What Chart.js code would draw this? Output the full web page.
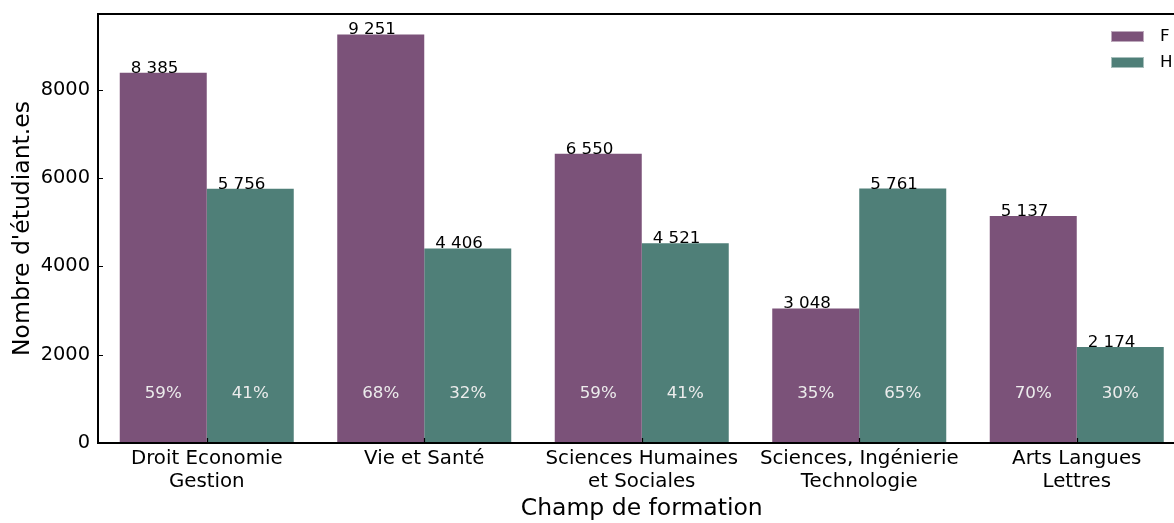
<!DOCTYPE html>
<html>
<head>
<meta charset="utf-8">
<script src="https://cdn.jsdelivr.net/npm/chart.js@4.4.1/dist/chart.umd.min.js"></script>
<style>
  html, body { margin: 0; padding: 0; overflow: hidden; background: #fff; }
  #wrap { width: 1174px; height: 523px; overflow: hidden; }
  canvas { display: block; }
</style>
</head>
<body>
<div id="wrap"><canvas id="chart" width="1190" height="523"></canvas></div>
<script>
// Data
const categories = [
  ['Droit Economie', 'Gestion'],
  ['Vie et Santé'],
  ['Sciences Humaines', 'et Sociales'],
  ['Sciences, Ingénierie', 'Technologie'],
  ['Arts Langues', 'Lettres']
];
const seriesNames = ['F', 'H'];
const womenCounts = [8385, 9251, 6550, 3048, 5137];
const menCounts = [5756, 4406, 4521, 5761, 2174];
const yTicks = [0, 2000, 4000, 6000, 8000];
const yMax = 9713;
const pctLabelLevel = 1000;

const purple = '#7b5279';
const teal = '#4f7f78';
const FONT = "'DejaVu Sans', sans-serif";

// "8385" -> "8 385"
function fmtCount(v) {
  return String(v).replace(/\B(?=(\d{3})+(?!\d))/g, ' ');
}

const barLabels = {
  id: 'barLabels',
  afterDatasetsDraw(chart) {
    const ctx = chart.ctx;
    const x = chart.scales.x, y = chart.scales.y;
    const step = x.getPixelForValue(1) - x.getPixelForValue(0);
    const yPct = y.getPixelForValue(pctLabelLevel);
    ctx.save();
    chart.data.datasets.forEach((ds, di) => {
      const meta = chart.getDatasetMeta(di);
      meta.data.forEach((bar, i) => {
        const left = bar.x - bar.width / 2;
        // count above the bar
        ctx.font = '16.7px ' + FONT;
        ctx.fillStyle = '#000';
        ctx.textAlign = 'left';
        ctx.textBaseline = 'alphabetic';
        ctx.fillText(fmtCount(ds.data[i]), left + 0.05 * step, bar.y);
        // share inside the bar
        const total = womenCounts[i] + menCounts[i];
        const pct = Math.round(ds.data[i] / total * 100) + '%';
        ctx.fillStyle = '#ececec';
        ctx.textAlign = 'center';
        ctx.textBaseline = 'bottom';
        ctx.fillText(pct, bar.x, yPct + 3);
      });
    });
    ctx.restore();
  }
};

const frame = {
  id: 'frame',
  afterDraw(chart) {
    const ctx = chart.ctx;
    const a = chart.chartArea;
    const x = chart.scales.x, y = chart.scales.y;
    ctx.save();
    // spines
    ctx.strokeStyle = '#000';
    ctx.lineWidth = 2;
    ctx.strokeRect(a.left, a.top, a.right - a.left, a.bottom - a.top);
    // inward ticks
    ctx.lineWidth = 1.2;
    ctx.beginPath();
    yTicks.forEach(v => {
      const py = Math.round(y.getPixelForValue(v)) + 0.5;
      ctx.moveTo(a.left, py);
      ctx.lineTo(a.left + 5, py);
    });
    categories.forEach((c, i) => {
      const px = Math.round(x.getPixelForValue(i)) + 0.5;
      ctx.moveTo(px, a.bottom);
      ctx.lineTo(px, a.bottom - 5);
    });
    ctx.stroke();
    // legend
    const lx = a.right - 74.5, ly = a.top + 17;
    ctx.font = '16.7px ' + FONT;
    ctx.textAlign = 'left';
    ctx.textBaseline = 'middle';
    chart.data.datasets.forEach((ds, di) => {
      const top = ly + di * 26;
      ctx.fillStyle = ds.backgroundColor;
      ctx.fillRect(lx, top, 33, 11);
      ctx.strokeStyle = 'rgba(255,255,255,0.5)';
      ctx.lineWidth = 1;
      ctx.strokeRect(lx + 0.5, top + 0.5, 32, 10);
      ctx.fillStyle = '#000';
      ctx.fillText(ds.label, lx + 49, top + 6);
    });
    ctx.restore();
  }
};

new Chart(document.getElementById('chart').getContext('2d'), {
  type: 'bar',
  data: {
    labels: categories,
    datasets: [
      { label: seriesNames[0], data: womenCounts, backgroundColor: purple },
      { label: seriesNames[1], data: menCounts, backgroundColor: teal }
    ]
  },
  options: {
    responsive: false,
    animation: false,
    events: [],
    layout: { padding: { left: 0, right: 4.5, top: 14, bottom: 0 } },
    datasets: { bar: { categoryPercentage: 0.8, barPercentage: 1.0, borderWidth: 0 } },
    plugins: {
      legend: { display: false },
      tooltip: { enabled: false }
    },
    scales: {
      x: {
        grid: { display: false, drawTicks: false },
        border: { display: false },
        ticks: {
          color: '#000',
          font: { family: FONT, size: 19.8, lineHeight: 1.17 },
          padding: 4,
          maxRotation: 0,
          autoSkip: false
        },
        title: {
          display: true,
          text: 'Champ de formation',
          color: '#000',
          font: { family: FONT, size: 23.5, lineHeight: 1.2 },
          padding: { top: 0, bottom: 0 }
        },
        afterFit(scale) {
          scale.height = 80;
          scale.paddingLeft = 0;
          scale.paddingRight = 0;
        }
      },
      y: {
        min: 0,
        max: yMax,
        grid: { display: false, drawTicks: false },
        border: { display: false },
        ticks: {
          color: '#000',
          font: { family: FONT, size: 19.4 },
          padding: 8,
          stepSize: 2000,
          callback: v => String(v)
        },
        afterBuildTicks(scale) {
          scale.ticks = yTicks.map(v => ({ value: v }));
        },
        title: {
          display: true,
          text: "Nombre d'étudiant.es",
          color: '#000',
          font: { family: FONT, size: 23.5, lineHeight: 1.2 },
          padding: { top: 9, bottom: 0 }
        },
        afterFit(scale) {
          scale.width = 98;
          scale.paddingTop = 0;
          scale.paddingBottom = 0;
        }
      }
    }
  },
  plugins: [barLabels, frame]
});
</script>
</body>
</html>
